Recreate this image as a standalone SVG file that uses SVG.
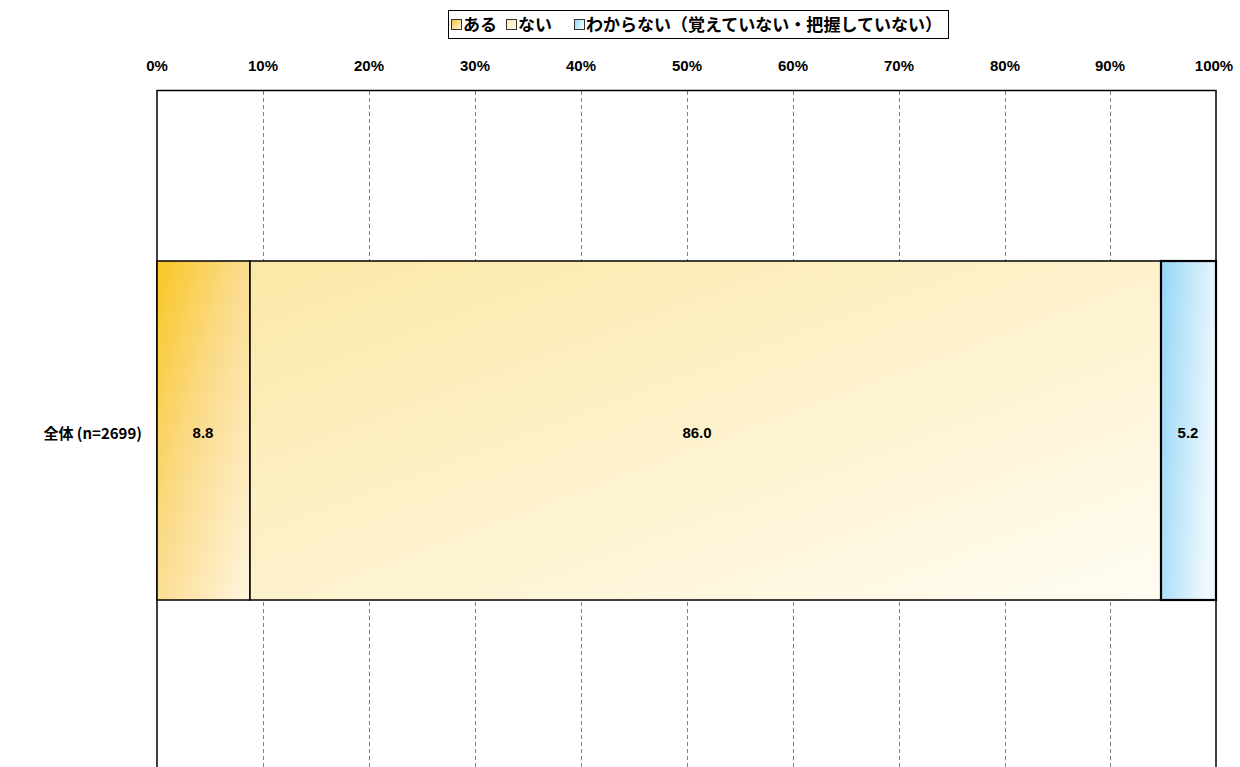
<svg xmlns="http://www.w3.org/2000/svg" width="1240" height="767" viewBox="0 0 1240 767">
<style>
.t{font-family:"Liberation Sans","Noto Sans CJK JP",sans-serif;font-weight:bold;font-size:15px;fill:#000}
.j{font-family:"Noto Sans CJK JP","Liberation Sans",sans-serif;font-weight:bold;font-size:17px;fill:#000}
.grid{stroke:#808080;stroke-width:1;stroke-dasharray:4 3;fill:none}
.axis{stroke:#000;stroke-width:1.5;fill:none}
.seg{stroke:#000;stroke-width:1.5}
</style>
<defs>
<linearGradient id="gA" x1="0" y1="0" x2="1" y2="1">
<stop offset="0" stop-color="#F9C623"/><stop offset="0.45" stop-color="#FBDB8A"/><stop offset="1" stop-color="#FFF6DF"/>
</linearGradient>
<linearGradient id="gB" x1="0" y1="0" x2="1" y2="1">
<stop offset="0" stop-color="#FBE8A6"/><stop offset="1" stop-color="#FFFCF2"/>
</linearGradient>
<linearGradient id="gC" x1="0" y1="0" x2="1" y2="0.3">
<stop offset="0" stop-color="#94D6F5"/><stop offset="1" stop-color="#EEF8FE"/>
</linearGradient>
</defs>
<rect width="1240" height="767" fill="#fff"/>
<g id="legend">
<rect x="448.5" y="10.5" width="500" height="28" fill="#fff" stroke="#000" stroke-width="1"/>
<rect x="451.5" y="19.5" width="10" height="10" fill="url(#gA)" stroke="#333"/>
<text class="j" x="463" y="31">ある</text>
<rect x="506.5" y="19.5" width="10" height="10" fill="url(#gB)" stroke="#333"/>
<text class="j" x="518" y="31">ない</text>
<rect x="574.5" y="19.5" width="10" height="10" fill="url(#gC)" stroke="#333"/>
<text class="j" x="586" y="31" textLength="356" lengthAdjust="spacingAndGlyphs">わからない（覚えていない・把握していない）</text>
</g>
<g id="axis-labels">
<text class="t" x="157" y="71" text-anchor="middle">0%</text>
<text class="t" x="263" y="71" text-anchor="middle">10%</text>
<text class="t" x="369" y="71" text-anchor="middle">20%</text>
<text class="t" x="475" y="71" text-anchor="middle">30%</text>
<text class="t" x="581" y="71" text-anchor="middle">40%</text>
<text class="t" x="687" y="71" text-anchor="middle">50%</text>
<text class="t" x="793" y="71" text-anchor="middle">60%</text>
<text class="t" x="899" y="71" text-anchor="middle">70%</text>
<text class="t" x="1005" y="71" text-anchor="middle">80%</text>
<text class="t" x="1110" y="71" text-anchor="middle">90%</text>
<text class="t" x="1214" y="71" text-anchor="middle">100%</text>
</g>
<g id="gridlines">
<line class="grid" x1="263.5" y1="91" x2="263.5" y2="767"/>
<line class="grid" x1="369.5" y1="91" x2="369.5" y2="767"/>
<line class="grid" x1="475.5" y1="91" x2="475.5" y2="767"/>
<line class="grid" x1="581.5" y1="91" x2="581.5" y2="767"/>
<line class="grid" x1="687.5" y1="91" x2="687.5" y2="767"/>
<line class="grid" x1="793.5" y1="91" x2="793.5" y2="767"/>
<line class="grid" x1="899.5" y1="91" x2="899.5" y2="767"/>
<line class="grid" x1="1005.5" y1="91" x2="1005.5" y2="767"/>
<line class="grid" x1="1110.5" y1="91" x2="1110.5" y2="767"/>
</g>
<g id="plot-frame">
<polyline class="axis" points="157,767 157,90.5 1216,90.5 1216,767"/>
</g>
<g id="bar">
<rect class="seg" x="157" y="261" width="93" height="339" fill="url(#gA)"/>
<rect class="seg" x="250" y="261" width="911" height="339" fill="url(#gB)"/>
<rect x="1161" y="261" width="55" height="339" fill="url(#gC)" stroke="#000" stroke-width="2.2"/>
<text class="t" x="203" y="438" text-anchor="middle">8.8</text>
<text class="t" x="697" y="438" text-anchor="middle">86.0</text>
<text class="t" x="1188" y="438" text-anchor="middle">5.2</text>
</g>
<g id="category">
<text class="j" x="142" y="439" text-anchor="end" style="font-size:15px">全体 (n=2699)</text>
</g>
</svg>
